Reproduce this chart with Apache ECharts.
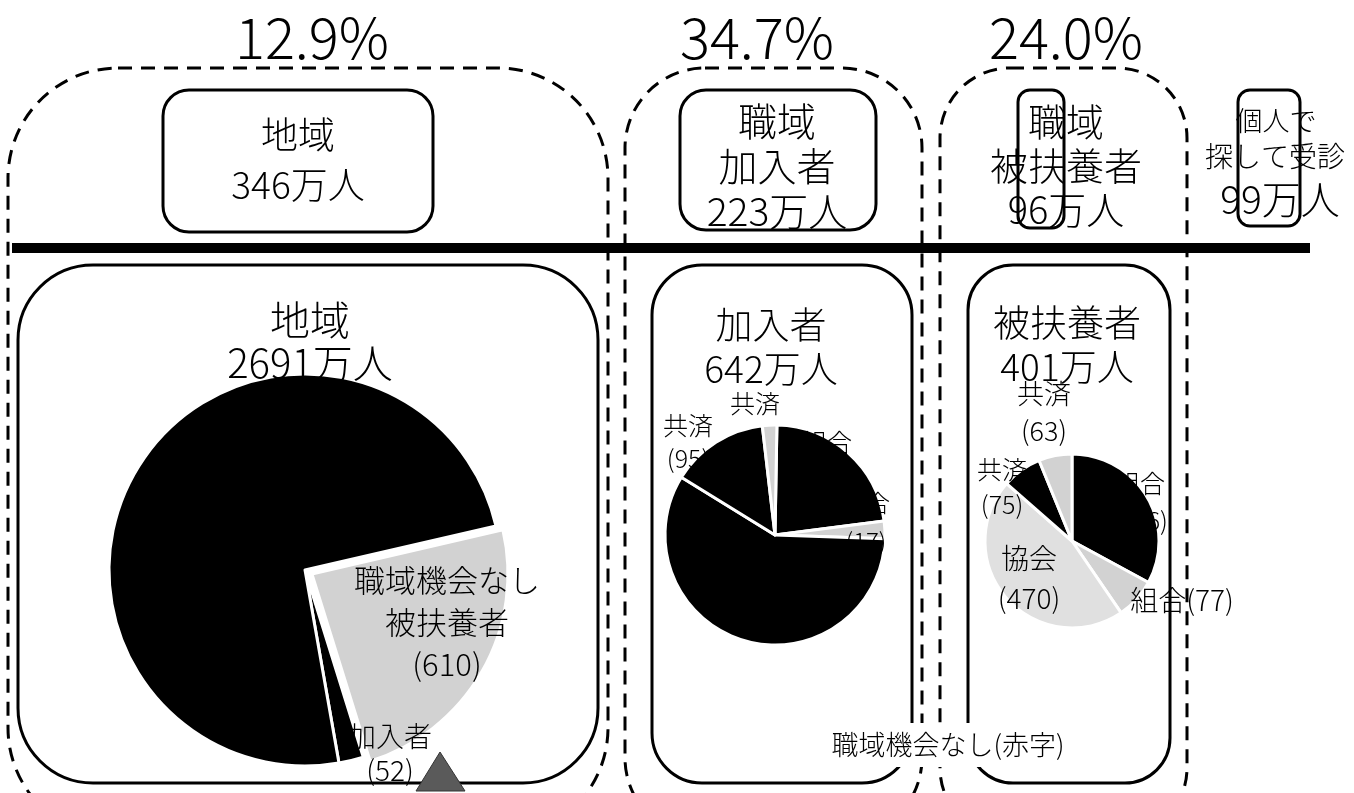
<!DOCTYPE html>
<html>
<head>
<meta charset="utf-8">
<script src="https://cdn.jsdelivr.net/npm/echarts@6/dist/echarts.min.js"></script>
<style>
  html, body { margin: 0; padding: 0; background: #fff; }
  #main { width: 1354px; height: 793px; }
</style>
</head>
<body>
<div id="main"></div>
<script>
// data
const topPct = ['12.9%', '34.7%', '24.0%'];
const topGroups = ['地域', '職域\n加入者', '職域\n被扶養者', '個人で\n探して受診'];
const topCounts = [346, 223, 96, 99];
const pieTitles = ['地域', '加入者', '被扶養者'];
const pieTotals = [2691, 642, 401];
const chiikiNames = ['職域機会なし\n被扶養者', '加入者', '地域'];
const chiikiValues = [610, 52, 1900];
const kanyuNames = ['組合', '組合', '協会', '共済', '共済'];
const kanyuValues = [150, 17, 385, 95, 14];
const fuyoNames = ['組合', '組合', '協会', '共済', '共済'];
const fuyoValues = [336, 77, 470, 75, 63];
const noteText = '職域機会なし(赤字)';

const FONT = '"Noto Sans CJK JP", "Noto Sans", sans-serif';
const BLACK = '#000';
const GRAY = '#d2d2d2';

const chart = echarts.init(document.getElementById('main'));

function txt(text, x, y, size, extra) {
  return {
    type: 'text', z: 100,
    style: Object.assign({
      text: text, x: x, y: y, fill: '#000',
      fontSize: size, fontFamily: FONT, fontWeight: 300,
      align: 'center', verticalAlign: 'middle',
      lineHeight: Math.round(size * 1.18)
    }, extra || {})
  };
}
function box(x, y, w, h, r, dashed) {
  return {
    type: 'rect', z: 1,
    shape: { x: x, y: y, width: w, height: h, r: r },
    style: {
      fill: 'none', stroke: '#000', lineWidth: 3,
      lineDash: dashed ? [14, 9] : null
    }
  };
}
function pieData(names, values, colors, selected) {
  return values.map((v, i) => ({
    name: names[i], value: v,
    selected: !!(selected && selected[i]),
    itemStyle: { color: colors[i] }
  }));
}
const label = (names, values, i) => names[i] + '\n(' + values[i] + ')';

const pieBase = {
  type: 'pie',
  label: { show: false },
  labelLine: { show: false },
  emphasis: { disabled: true },
  animation: false,
  itemStyle: { borderColor: '#fff', borderWidth: 3 }
};

chart.setOption({
  backgroundColor: '#fff',
  series: [
    Object.assign({}, pieBase, {
      center: [305, 570], radius: 196, startAngle: 13,
      selectedMode: 'multiple', selectedOffset: 8,
      data: pieData(chiikiNames, chiikiValues, [GRAY, BLACK, BLACK], [true, false, false])
    }),
    Object.assign({}, pieBase, {
      center: [775, 535], radius: 110, startAngle: 89,
      data: pieData(kanyuNames, kanyuValues, [BLACK, GRAY, BLACK, BLACK, GRAY])
    }),
    Object.assign({}, pieBase, {
      center: [1072, 541], radius: 87, startAngle: 90,
      data: pieData(fuyoNames, fuyoValues, [BLACK, GRAY, '#e0e0e0', BLACK, GRAY])
    })
  ],
  graphic: [
    // dashed group outlines
    box(8, 68, 600, 770, 110, true),
    box(625, 68, 297, 770, 80, true),
    box(940, 68, 247, 770, 70, true),
    // top solid boxes
    box(163, 90, 270, 142, 26),
    box(680, 90, 196, 140, 26),
    box(1018, 90, 46, 138, 12),
    box(1238, 90, 62, 136, 12),
    // divider
    { type: 'rect', z: 2, shape: { x: 12, y: 243, width: 1298, height: 10 }, style: { fill: '#000' } },
    // lower solid boxes
    box(18, 265, 580, 518, 75),
    box(652, 265, 260, 518, 50),
    box(968, 265, 202, 518, 45),
    // small marker triangle
    { type: 'polygon', z: 5, shape: { points: [[416, 791], [465, 791], [440, 752]] },
      style: { fill: '#5a5a5a', stroke: '#333', lineWidth: 1 } },

    // percentages
    txt(topPct[0], 312, 38, 56),
    txt(topPct[1], 757, 38, 56),
    txt(topPct[2], 1066, 38, 56),

    // top box texts
    txt(topGroups[0] + '\n' + topCounts[0] + '万人', 298, 160, 37, { lineHeight: 50 }),
    txt(topGroups[1] + '\n' + topCounts[1] + '万人', 777, 166, 39, { lineHeight: 45 }),
    txt(topGroups[2] + '\n' + topCounts[2] + '万人', 1066, 166, 38, { lineHeight: 44 }),
    txt('個人で', 1276, 121, 27),
    txt('探して受診', 1275, 156, 28),
    txt(topCounts[3] + '万人', 1280, 199, 39),

    // pie titles
    txt(pieTitles[0] + '\n' + pieTotals[0] + '万人', 310, 341, 40, { lineHeight: 43 }),
    txt(pieTitles[1] + '\n' + pieTotals[1] + '万人', 771, 347, 37, { lineHeight: 44 }),
    txt(pieTitles[2] + '\n' + pieTotals[2] + '万人', 1067, 345, 37, { lineHeight: 44 }),

    // pie 1 labels
    txt(label(chiikiNames, chiikiValues, 0), 447, 622, 31, { lineHeight: 42 }),
    txt(label(chiikiNames, chiikiValues, 1), 390, 753, 28, { lineHeight: 34 }),

    // pie 2 labels
    txt(kanyuNames[4], 755, 403, 25),
    txt(label(kanyuNames, kanyuValues, 3), 688, 442, 25, { lineHeight: 33 }),
    txt(label(kanyuNames, kanyuValues, 0), 827, 460, 25, { lineHeight: 36 }),
    txt(label(kanyuNames, kanyuValues, 1), 866, 522, 24, { lineHeight: 38 }),
    txt(label(kanyuNames, kanyuValues, 2), 760, 595, 27, { lineHeight: 40 }),

    // pie 3 labels
    txt(label(fuyoNames, fuyoValues, 4), 1044, 412, 27, { lineHeight: 37 }),
    txt(label(fuyoNames, fuyoValues, 3), 1002, 487, 25, { lineHeight: 35 }),
    txt(label(fuyoNames, fuyoValues, 2), 1029, 578, 28, { lineHeight: 40 }),
    txt(fuyoNames[1] + '(' + fuyoValues[1] + ')', 1182, 600, 28),
    txt(label(fuyoNames, fuyoValues, 0), 1140, 502, 25, { lineHeight: 37 }),

    // note at bottom, white backing breaks the lines behind it
    Object.assign(txt(noteText, 948, 745, 27, { backgroundColor: '#fff', padding: [6, 8] }), { z: 110 })
  ]
});
</script>
</body>
</html>
